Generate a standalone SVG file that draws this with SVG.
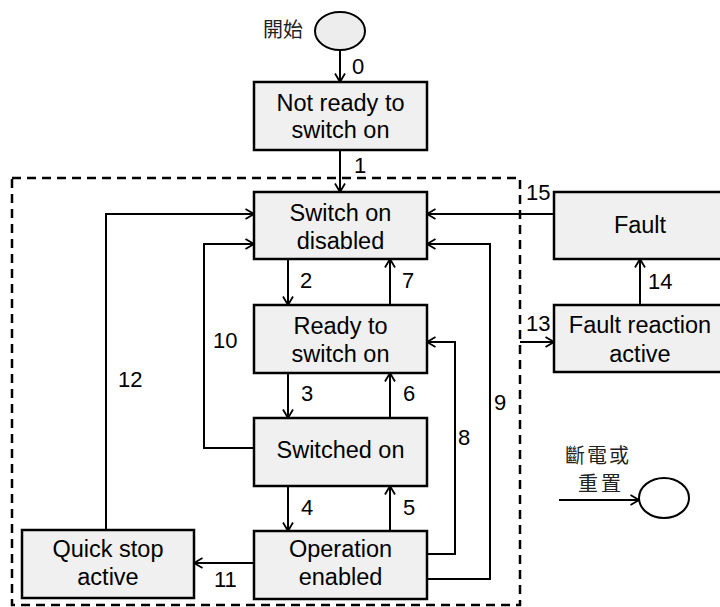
<svg xmlns="http://www.w3.org/2000/svg" width="720" height="607" viewBox="0 0 720 607">
  <style>
    .box { fill: #f0f0f0; stroke: #000; stroke-width: 2.5; }
    .lbl { font-family: "Liberation Sans", Arial, sans-serif; font-size: 23.5px; fill: #000; text-anchor: middle; }
    .num { font-family: "Liberation Sans", Arial, sans-serif; font-size: 22px; fill: #000; }
    .cjk { font-family: "Noto Sans CJK TC", "Noto Sans CJK SC", serif; font-size: 20px; fill: #222; }
    .conn { fill: none; stroke: #000; stroke-width: 2; }
    .arrow { marker-end: url(#arr); }
  </style>
  <defs>
    <marker id="arr" viewBox="0 0 10 12" refX="9.5" refY="6" markerWidth="10" markerHeight="12" markerUnits="userSpaceOnUse" orient="auto">
      <path d="M1,1 L9.5,6 L1,11" fill="none" stroke="#000" stroke-width="1.8"/>
    </marker>
  </defs>
  <rect width="720" height="607" fill="#fff"/>

  <!-- power-state frame -->
  <rect x="12" y="178" width="508" height="427" fill="none" stroke="#000" stroke-width="2.5" stroke-dasharray="9,6"/>

  <g id="connectors">
    <path class="conn arrow" d="M340,50 V82"/>
    <path class="conn arrow" d="M340,150 V192"/>
    <path class="conn arrow" d="M288,259 V305"/>
    <path class="conn arrow" d="M390,305 V259"/>
    <path class="conn arrow" d="M288,373 V418"/>
    <path class="conn arrow" d="M390,418 V373"/>
    <path class="conn arrow" d="M288,486 V531"/>
    <path class="conn arrow" d="M390,531 V486"/>
    <path class="conn arrow" d="M427,554 H455 V342 H427"/>
    <path class="conn arrow" d="M427,579 H490 V244 H427"/>
    <path class="conn arrow" d="M254,448 H204 V244 H254"/>
    <path class="conn arrow" d="M106,530 V214 H254"/>
    <path class="conn arrow" d="M254,563 H194"/>
    <path class="conn arrow" d="M554,214 H427"/>
    <path class="conn arrow" d="M520,342 H554"/>
    <path class="conn arrow" d="M640,305 V259"/>
    <path class="conn arrow" d="M559,500 H639"/>
    <text class="num" x="352" y="74">0</text>
    <text class="num" x="354" y="173">1</text>
    <text class="num" x="300" y="288">2</text>
    <text class="num" x="402" y="288">7</text>
    <text class="num" x="301" y="401">3</text>
    <text class="num" x="403" y="401">6</text>
    <text class="num" x="301" y="515">4</text>
    <text class="num" x="403" y="515">5</text>
    <text class="num" x="458" y="445">8</text>
    <text class="num" x="494" y="410">9</text>
    <text class="num" x="213" y="348">10</text>
    <text class="num" x="214" y="587">11</text>
    <text class="num" x="118" y="387">12</text>
    <text class="num" x="526" y="331">13</text>
    <text class="num" x="648" y="289">14</text>
    <text class="num" x="526" y="200">15</text>
  </g>

  <g id="start">
    <ellipse cx="340" cy="31" rx="25" ry="19" fill="#ededed" stroke="#000" stroke-width="2"/>
    <text class="cjk" x="263" y="37">開始</text>
  </g>

  <g id="reset">
    <ellipse cx="664" cy="498" rx="25" ry="20" fill="#fff" stroke="#000" stroke-width="2"/>
    <text class="cjk" x="565" y="463" letter-spacing="2">斷電或</text>
    <text class="cjk" x="578" y="491" letter-spacing="3">重置</text>
  </g>

  <g id="not-ready">
    <rect class="box" x="254" y="82" width="173" height="68"/>
    <text class="lbl" x="340.5" y="111">Not ready to</text>
    <text class="lbl" x="340.5" y="138">switch on</text>
  </g>

  <g id="switch-on-disabled">
    <rect class="box" x="254" y="192" width="173" height="67"/>
    <text class="lbl" x="340.5" y="221">Switch on</text>
    <text class="lbl" x="340.5" y="249">disabled</text>
  </g>

  <g id="ready-to-switch-on">
    <rect class="box" x="254" y="305" width="173" height="68"/>
    <text class="lbl" x="340.5" y="334">Ready to</text>
    <text class="lbl" x="340.5" y="362">switch on</text>
  </g>

  <g id="switched-on">
    <rect class="box" x="254" y="418" width="173" height="68"/>
    <text class="lbl" x="340.5" y="458">Switched on</text>
  </g>

  <g id="operation-enabled">
    <rect class="box" x="254" y="531" width="173" height="68"/>
    <text class="lbl" x="340.5" y="557">Operation</text>
    <text class="lbl" x="340.5" y="585">enabled</text>
  </g>

  <g id="quick-stop-active">
    <rect class="box" x="22" y="530" width="172" height="68"/>
    <text class="lbl" x="108" y="557">Quick stop</text>
    <text class="lbl" x="108" y="585">active</text>
  </g>

  <g id="fault">
    <rect class="box" x="554" y="192" width="172" height="67"/>
    <text class="lbl" x="640" y="233">Fault</text>
  </g>

  <g id="fault-reaction-active">
    <rect class="box" x="554" y="305" width="172" height="67"/>
    <text class="lbl" x="640" y="333">Fault reaction</text>
    <text class="lbl" x="640" y="362">active</text>
  </g>
</svg>
